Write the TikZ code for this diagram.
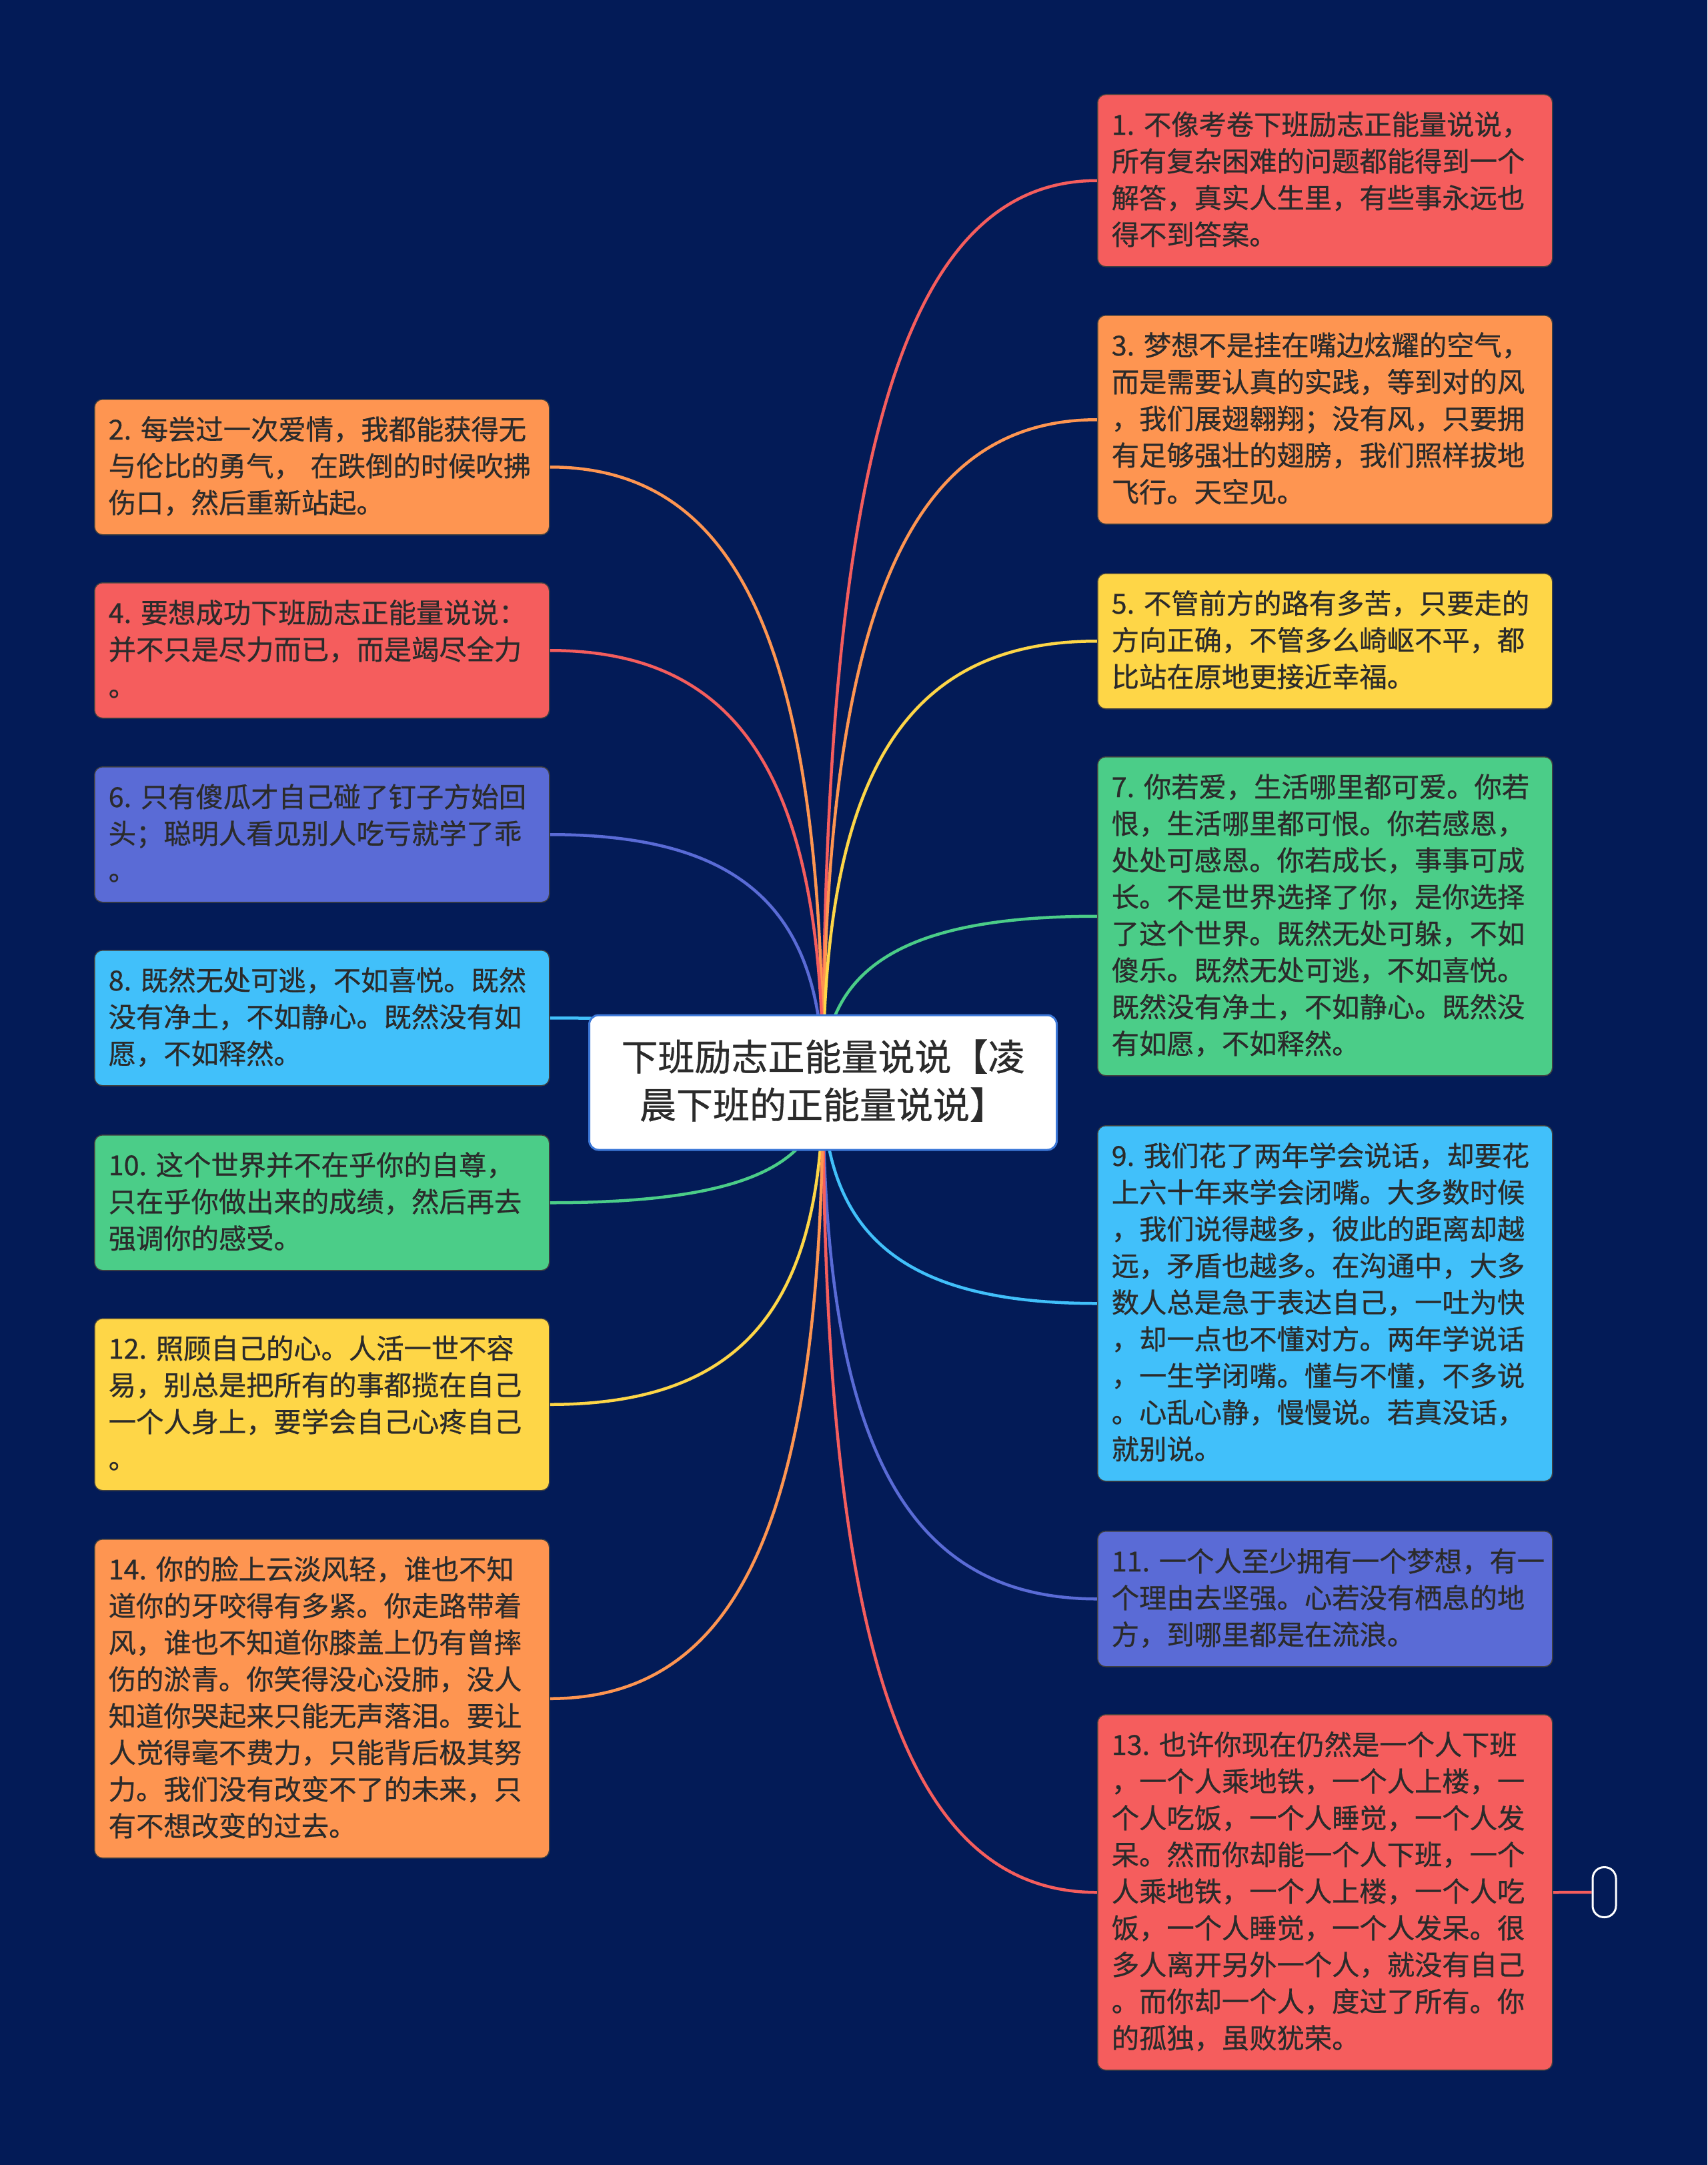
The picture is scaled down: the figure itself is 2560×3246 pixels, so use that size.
\documentclass[tikz,border=0pt]{standalone}
\usepackage{fontspec}
\newfontfamily\cjk{Noto Sans CJK SC}[RawFeature={embolden=0.6}]
\usetikzlibrary{calc}
\definecolor{bgc}{HTML}{031B57}
\definecolor{cred}{HTML}{F55D5D}
\definecolor{corange}{HTML}{FE9551}
\definecolor{cyellow}{HTML}{FED647}
\definecolor{cgreen}{HTML}{4BCD88}
\definecolor{cblue}{HTML}{41C0FA}
\definecolor{cindigo}{HTML}{5A6BD6}
\definecolor{ctext}{HTML}{2B2B2B}
\definecolor{cborder}{HTML}{3C78D8}
\newcommand\lnst{\rule[-13.7pt]{0pt}{55pt}}
\newcommand\ttst{\rule[-18pt]{0pt}{72pt}}
\pgfdeclarelayer{back}
\pgfdeclarelayer{edges}
\pgfsetlayers{back,edges,main}
\newcommand\edgeR[2]{\draw[conn,#2] (c.center) .. controls ($(c.center)!0.7!(c.center|-#1.west)$) and ($(#1.west)!0.7!(c.center|-#1.west)$) .. (#1.west);}
\newcommand\edgeL[2]{\draw[conn,#2] (c.center) .. controls ($(c.center)!0.7!(c.center|-#1.east)$) and ($(#1.east)!0.7!(c.center|-#1.east)$) .. (#1.east);}
\begin{document}
\begin{tikzpicture}[x=1pt,y=-1pt,
  leaf/.style={draw=black!75, line width=1.5pt, rounded corners=12pt, text=ctext,
    font=\cjk\fontsize{41.3}{55}\selectfont, text width=640pt, align=left,
    inner xsep=21pt, inner ysep=0pt, minimum height=#1*55pt+38pt, anchor=north west},
  conn/.style={line width=4.5pt},
  root/.style={draw=cborder, line width=3pt, fill=white, rounded corners=14pt,
    minimum width=701pt, minimum height=202pt, inner sep=0pt, align=center,
    font=\cjk\fontsize{55}{72}\selectfont, text=ctext},
  handle/.style={draw=white, line width=3pt, rounded corners=17pt, minimum width=35pt,
    minimum height=75pt, inner sep=0pt}]
\begin{pgfonlayer}{back}
\fill[bgc] (0,0) rectangle (2560,3246);
\end{pgfonlayer}
\useasboundingbox (0,0) rectangle (2560,3246);

\node[root] (c) at (1234,1623) {\ttst 下班励志正能量说说【凌\\晨下班的正能量说说】\ttst};

% right column
\node[leaf=4, fill=cred] (n1) at (1645,141) {\lnst 1.~不像考卷下班励志正能量说说，\\所有复杂困难的问题都能得到一个\\解答，真实人生里，有些事永远也\\得不到答案。\lnst};
\node[leaf=5, fill=corange] (n3) at (1645,472) {\lnst 3.~梦想不是挂在嘴边炫耀的空气，\\而是需要认真的实践，等到对的风\\，我们展翅翱翔；没有风，只要拥\\有足够强壮的翅膀，我们照样拔地\\飞行。天空见。\lnst};
\node[leaf=3, fill=cyellow] (n5) at (1645,859) {\lnst 5.~不管前方的路有多苦，只要走的\\方向正确，不管多么崎岖不平，都\\比站在原地更接近幸福。\lnst};
\node[leaf=8, fill=cgreen] (n7) at (1645,1134) {\lnst 7.~你若爱，生活哪里都可爱。你若\\恨，生活哪里都可恨。你若感恩，\\处处可感恩。你若成长，事事可成\\长。不是世界选择了你，是你选择\\了这个世界。既然无处可躲，不如\\傻乐。既然无处可逃，不如喜悦。\\既然没有净土，不如静心。既然没\\有如愿，不如释然。\lnst};
\node[leaf=9, fill=cblue] (n9) at (1645,1687) {\lnst 9.~我们花了两年学会说话，却要花\\上六十年来学会闭嘴。大多数时候\\，我们说得越多，彼此的距离却越\\远，矛盾也越多。在沟通中，大多\\数人总是急于表达自己，一吐为快\\，却一点也不懂对方。两年学说话\\，一生学闭嘴。懂与不懂，不多说\\。心乱心静，慢慢说。若真没话，\\就别说。\lnst};
\node[leaf=3, fill=cindigo] (n11) at (1645,2295) {\lnst 11.~一个人至少拥有一个梦想，有一\\个理由去坚强。心若没有栖息的地\\方，到哪里都是在流浪。\lnst};
\node[leaf=9, fill=cred] (n13) at (1645,2570) {\lnst 13.~也许你现在仍然是一个人下班\\，一个人乘地铁，一个人上楼，一\\个人吃饭，一个人睡觉，一个人发\\呆。然而你却能一个人下班，一个\\人乘地铁，一个人上楼，一个人吃\\饭，一个人睡觉，一个人发呆。很\\多人离开另外一个人，就没有自己\\。而你却一个人，度过了所有。你\\的孤独，虽败犹荣。\lnst};

% left column
\node[leaf=3, fill=corange] (n2) at (141,598) {\lnst 2.~每尝过一次爱情，我都能获得无\\与伦比的勇气，~在跌倒的时候吹拂\\伤口，然后重新站起。\lnst};
\node[leaf=3, fill=cred] (n4) at (141,873) {\lnst 4.~要想成功下班励志正能量说说：\\并不只是尽力而已，而是竭尽全力\\。\lnst};
\node[leaf=3, fill=cindigo] (n6) at (141,1149) {\lnst 6.~只有傻瓜才自己碰了钉子方始回\\头；聪明人看见别人吃亏就学了乖\\。\lnst};
\node[leaf=3, fill=cblue] (n8) at (141,1424) {\lnst 8.~既然无处可逃，不如喜悦。既然\\没有净土，不如静心。既然没有如\\愿，不如释然。\lnst};
\node[leaf=3, fill=cgreen] (n10) at (141,1701) {\lnst 10.~这个世界并不在乎你的自尊，\\只在乎你做出来的成绩，然后再去\\强调你的感受。\lnst};
\node[leaf=4, fill=cyellow] (n12) at (141,1976) {\lnst 12.~照顾自己的心。人活一世不容\\易，别总是把所有的事都揽在自己\\一个人身上，要学会自己心疼自己\\。\lnst};
\node[leaf=8, fill=corange] (n14) at (141,2307) {\lnst 14.~你的脸上云淡风轻，谁也不知\\道你的牙咬得有多紧。你走路带着\\风，谁也不知道你膝盖上仍有曾摔\\伤的淤青。你笑得没心没肺，没人\\知道你哭起来只能无声落泪。要让\\人觉得毫不费力，只能背后极其努\\力。我们没有改变不了的未来，只\\有不想改变的过去。\lnst};

\node[handle] (h) at (2405.5,2837) {};

\begin{pgfonlayer}{edges}
\edgeR{n1}{cred}
\edgeR{n3}{corange}
\edgeR{n5}{cyellow}
\edgeR{n7}{cgreen}
\edgeR{n9}{cblue}
\edgeR{n11}{cindigo}
\edgeR{n13}{cred}
\edgeL{n2}{corange}
\edgeL{n4}{cred}
\edgeL{n6}{cindigo}
\edgeL{n8}{cblue}
\edgeL{n10}{cgreen}
\edgeL{n12}{cyellow}
\edgeL{n14}{corange}
\draw[conn,cred] (n13.east) -- (h.west);
\end{pgfonlayer}
\end{tikzpicture}
\end{document}
